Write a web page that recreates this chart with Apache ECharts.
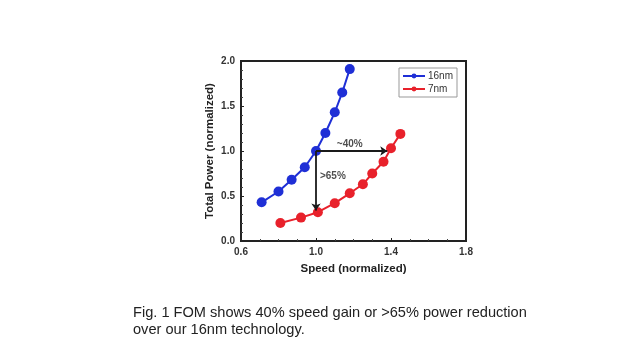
<!DOCTYPE html>
<html><head><meta charset="utf-8">
<script src="https://cdn.jsdelivr.net/npm/echarts@6/dist/echarts.min.js"></script>
<style>html,body{margin:0;padding:0;background:#fff;}#c{width:640px;height:364px;}</style>
</head><body><div id="c"></div>
<script>
const xTicks = [0.6, 1.0, 1.4, 1.8];
const yTicks = [0.0, 0.5, 1.0, 1.5, 2.0];
const speed16 = [0.71, 0.80, 0.87, 0.94, 1.00, 1.05, 1.10, 1.14, 1.18];
const power16 = [0.43, 0.55, 0.68, 0.82, 1.00, 1.20, 1.43, 1.65, 1.91];
const speed7 = [0.81, 0.92, 1.01, 1.10, 1.18, 1.25, 1.30, 1.36, 1.40, 1.45];
const power7 = [0.20, 0.26, 0.32, 0.42, 0.53, 0.63, 0.75, 0.88, 1.03, 1.19];
const arrowH = [[1.0, 1.0], [1.38, 1.0]];
const arrowV = [[1.0, 1.0], [1.0, 0.34]];
const annotations = [{ text: '~40%', x: 1.18, y: 1.08 }, { text: '>65%', x: 1.09, y: 0.72 }];

const chart = echarts.init(document.getElementById('c'));
const pair = (xs, ys) => xs.map((x, i) => [x, ys[i]]);
const font = 'Liberation Sans, Arial, sans-serif';
chart.setOption({
  animation: false,
  backgroundColor: '#fff',
  grid: { left: 241, right: 174, top: 61, bottom: 123, show: true, borderColor: '#222', borderWidth: 2 },
  xAxis: {
    type: 'value', min: 0.6, max: 1.8, interval: 0.4,
    name: 'Speed (normalized)', nameLocation: 'middle', nameGap: 22,
    nameTextStyle: { fontFamily: font, fontWeight: 'bold', fontSize: 11.5, color: '#222' },
    axisLine: { show: true, lineStyle: { color: '#222', width: 2 } },
    axisTick: { show: true, inside: true, length: 3, lineStyle: { color: '#222' } },
    minorTick: { show: true, splitNumber: 4, length: 2, lineStyle: { color: '#444' } },
    axisLabel: { fontFamily: font, fontWeight: 'bold', fontSize: 10, color: '#333', margin: 6,
      formatter: v => v.toFixed(1) },
    splitLine: { show: false }
  },
  yAxis: {
    type: 'value', min: 0, max: 2.0, interval: 0.5,
    name: 'Total Power (normalized)', nameLocation: 'middle', nameGap: 25,
    nameTextStyle: { fontFamily: font, fontWeight: 'bold', fontSize: 11.5, color: '#222' },
    axisLine: { show: true, lineStyle: { color: '#222', width: 2 } },
    axisTick: { show: true, inside: true, length: 3, lineStyle: { color: '#222' } },
    minorTick: { show: true, splitNumber: 5, length: 2, lineStyle: { color: '#444' } },
    axisLabel: { fontFamily: font, fontWeight: 'bold', fontSize: 10, color: '#333', margin: 6,
      formatter: v => v.toFixed(1) },
    splitLine: { show: false }
  },
  legend: {
    data: ['16nm', '7nm'], orient: 'vertical', left: 399, top: 68,
    borderColor: '#999', borderWidth: 1, padding: [3, 4, 3, 3], itemGap: 3,
    itemWidth: 22, itemHeight: 6,
    textStyle: { fontFamily: font, fontSize: 10, color: '#333', padding: [0, 0, 0, -2] }
  },
  series: [
    { name: '16nm', type: 'line', data: pair(speed16, power16), color: '#1f2fd6',
      symbol: 'circle', symbolSize: 10, lineStyle: { width: 2, color: '#1f2fd6' },
      itemStyle: { color: '#1f2fd6' } },
    { name: '7nm', type: 'line', data: pair(speed7, power7), color: '#e8212b',
      symbol: 'circle', symbolSize: 10, lineStyle: { width: 2, color: '#e8212b' },
      itemStyle: { color: '#e8212b' } },
    { name: 'arrows', type: 'line', data: [], z: 5,
      markLine: {
        silent: true, symbol: ['none', 'arrow'], symbolSize: 7,
        lineStyle: { color: '#1a1a1a', width: 1.8, type: 'solid' }, label: { show: false },
        data: [
          [{ coord: arrowH[0] }, { coord: arrowH[1] }],
          [{ coord: arrowV[0] }, { coord: arrowV[1] }]
        ]
      } },
    { name: 'labels', type: 'scatter', symbolSize: 0, z: 6,
      data: annotations.map(a => ({ value: [a.x, a.y], label: { formatter: a.text } })),
      label: { show: true, position: 'inside', fontFamily: font, fontWeight: 'bold', fontSize: 10, color: '#222' } }
  ],
  graphic: [
    { type: 'text', left: 133, top: 304, style: { text: 'Fig. 1 FOM shows 40% speed gain or >65% power reduction\nover our 16nm technology.', fontFamily: font, fontSize: 14.6, lineHeight: 17, fill: '#222' } }
  ]
});
</script></body></html>
